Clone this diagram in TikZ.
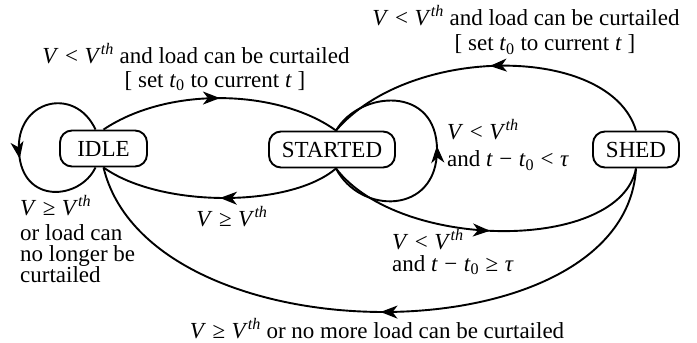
\documentclass[tikz,border=0pt]{standalone}
\usepackage{fontspec}
\setmainfont{Liberation Serif}
\usetikzlibrary{arrows.meta,decorations.markings}
\newcommand{\Vi}{\textit{V}}
\newcommand{\Vth}{\textit{V}\textsuperscript{\textit{th}}}
\newcommand{\rl}[1]{\hspace{0.28em}#1\hspace{0.28em}}
\newcommand{\tz}{\textit{t}\textsubscript{0}}
\begin{document}
\begin{tikzpicture}[x=1pt,y=-1pt,
  font=\fontsize{23}{26}\selectfont,
  state/.style={draw, rounded corners=12pt, minimum height=36pt, inner sep=0pt, line width=1.9pt},
  edge/.style={line width=1.9pt},
  lbl/.style={inner sep=0pt},
  midarrow/.style={postaction={decorate}, decoration={markings, mark=at position #1 with {\arrow{Stealth[length=17pt,width=13pt,inset=5pt]}}}},
  midarrow/.default=0.5]
\useasboundingbox[fill=white] (0,0) rectangle (697,343);
\node[state, minimum width=87pt] (idle) at (103.5,148.5) {IDLE};
\node[state, minimum width=126pt] (started) at (332,149.5) {STARTED};
\node[state, minimum width=86pt] (shed) at (636,149.5) {SHED};
% IDLE -> STARTED
\draw[edge, midarrow] (idle.north) .. controls (170,85) and (280,90) .. ([xshift=4pt]started.north);
% STARTED -> IDLE
\draw[edge, midarrow] ([xshift=4pt]started.south) .. controls (290,208) and (160,208) .. (idle.south);
% IDLE self loop
\draw[edge, midarrow=0.55] ([xshift=-8pt]idle.north) .. controls (75,85) and (15,100) .. (19,152) .. controls (22,205) and (80,200) .. ([xshift=-8pt]idle.south);
% STARTED self loop
\draw[edge, midarrow=0.52] ([xshift=4pt]started.south) .. controls (360,215) and (437,215) .. (437,150) .. controls (437,85) and (360,90) .. ([xshift=4pt]started.north);
% SHED -> STARTED
\draw[edge, midarrow] (shed.north) .. controls (610,44) and (410,44) .. ([xshift=4pt]started.north);
% STARTED -> SHED
\draw[edge, midarrow] ([xshift=4pt]started.south) .. controls (400,252) and (620,252) .. (shed.south);
% SHED -> IDLE
\draw[edge, midarrow=0.49] (shed.south) .. controls (625,360) and (150,360) .. (idle.south);
% labels
\node[lbl, align=center, font=\fontsize{23}{24}\selectfont] (l1) at (196,67) {\Vi\rl{<}\Vth{} and load can be curtailed\\\hspace*{38pt}[ set \tz{} to current \textit{t} ]};
\node[lbl, align=center, font=\fontsize{23}{25}\selectfont] (l2) at (526,30) {\Vi\rl{<}\Vth{} and load can be curtailed\\\hspace*{38pt}[ set \tz{} to current \textit{t} ]};
\node[lbl, anchor=north west, align=left, font=\fontsize{23}{21}\selectfont] (l3) at (20,195) {\Vi\rl{≥}\Vth\\[4pt]or load can\\no longer be\\curtailed};
\node[lbl] (l4) at (232,217) {\Vi\rl{≥}\Vth};
\node[lbl, anchor=west, align=left, font=\fontsize{23}{27}\selectfont] (l5) at (447,145) {\Vi\rl{<}\Vth\\and \textit{t}\rl{−}\tz\rl{<}\textit{τ}};
\node[lbl, anchor=west, align=left, font=\fontsize{23}{22}\selectfont] (l6) at (392,252) {\Vi\rl{<}\Vth\\and \textit{t}\rl{−}\tz\rl{≥}\textit{τ}};
\node[lbl] (l7) at (377,329) {\Vi\rl{≥}\Vth{} or no more load can be curtailed};
\end{tikzpicture}
\end{document}
